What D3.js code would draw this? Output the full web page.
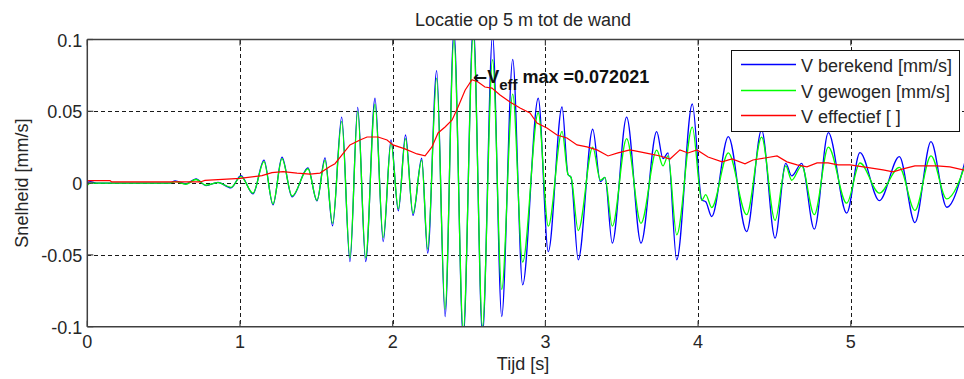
<!DOCTYPE html>
<html>
<head>
<meta charset="utf-8">
<script src="https://cdn.jsdelivr.net/npm/d3@7"></script>
<style>
  html, body { margin: 0; padding: 0; background: #fff; }
  svg { display: block; }
  text { font-family: "Liberation Sans", Arial, sans-serif; fill: #262626; }
</style>
</head>
<body>
<svg id="chart" width="964" height="379"></svg>
<script>
// Time samples (s) at the turning points of the measured signal
const tijd = [
  0.000, 0.020, 0.060, 0.540, 0.575, 0.646, 0.712, 0.777, 0.856, 0.941,
  1.006, 1.085, 1.157, 1.216, 1.275, 1.341, 1.445, 1.504, 1.557, 1.606,
  1.666, 1.720, 1.771, 1.823, 1.884, 1.938, 1.989, 2.037, 2.084, 2.133,
  2.190, 2.229, 2.288, 2.343, 2.401, 2.462, 2.528, 2.588, 2.654, 2.714,
  2.786, 2.851, 2.953, 3.019, 3.109, 3.148, 3.168, 3.215, 3.310, 3.360,
  3.390, 3.438, 3.532, 3.626, 3.729, 3.770, 3.803, 3.860, 3.962, 4.024,
  4.050, 4.089, 4.198, 4.318, 4.416, 4.504, 4.574, 4.613, 4.678, 4.761,
  4.853, 4.973, 5.060, 5.187, 5.318, 5.420, 5.525, 5.628, 5.760
];

// V berekend [mm/s]
const vBerekend = [
  0.0005, 0.001, 0, 0, 0.0015, -0.0006, 0.003, -0.0017, 0.0005, -0.0033,
  0.0052, -0.0075, 0.016, -0.0152, 0.018, -0.0096, 0.0106, -0.0124, 0.0175, -0.0298,
  0.0459, -0.0546, 0.0528, -0.0546, 0.0591, -0.0407, 0.0301, -0.0193, 0.0335, -0.0225,
  0.0173, -0.0488, 0.0783, -0.0929, 0.106, -0.108, 0.110, -0.106, 0.103, -0.0929,
  0.0862, -0.0708, 0.0591, -0.0477, 0.053, 0.006, 0.004, -0.0534, 0.0375, 0.001,
  0.004, -0.0418, 0.0459, -0.0418, 0.0358, 0.017, 0.021, -0.0534, 0.0551, -0.0117,
  -0.013, -0.0233, 0.0324, -0.0338, 0.037, -0.0383, 0.0138, 0.005, 0.0138, -0.0321,
  0.0351, -0.0209, 0.0212, -0.0122, 0.0184, -0.0275, 0.0289, -0.0168, 0.020
];

// V gewogen [mm/s]
const vGewogen = [
  -0.0015, 0, 0, 0, 0.001, -0.0008, 0.0025, -0.0015, 0.0003, -0.003,
  0.0045, -0.007, 0.015, -0.0145, 0.017, -0.009, 0.010, -0.012, 0.016, -0.028,
  0.043, -0.052, 0.050, -0.052, 0.055, -0.038, 0.028, -0.018, 0.031, -0.021,
  0.016, -0.046, 0.073, -0.088, 0.100, -0.103, 0.104, -0.100, 0.086, -0.074,
  0.062, -0.055, 0.049, -0.030, 0.036, 0.006, 0.004, -0.033, 0.025, 0.002,
  0.004, -0.030, 0.031, -0.028, 0.023, 0.012, 0.019, -0.036, 0.039, -0.012,
  -0.008, -0.017, 0.021, -0.022, 0.032, -0.026, 0.012, 0.002, 0.012, -0.022,
  0.025, -0.014, 0.014, -0.007, 0.011, -0.019, 0.019, -0.011, 0.016
];

// V effectief [ ] (running effective value)
const tijdEff = [
  0.005, 0.149, 0.160, 0.740, 0.770, 1.000, 1.144, 1.209, 1.282, 1.373,
  1.458, 1.524, 1.589, 1.622, 1.668, 1.720, 1.786, 1.832, 1.904, 1.963,
  2.002, 2.080, 2.159, 2.212, 2.257, 2.297, 2.343, 2.389, 2.428, 2.474,
  2.519, 2.559, 2.604, 2.650, 2.703, 2.768, 2.834, 2.899, 2.945, 3.010,
  3.076, 3.141, 3.207, 3.272, 3.338, 3.410, 3.475, 3.554, 3.620, 3.685,
  3.751, 3.816, 3.881, 3.934, 3.993, 4.065, 4.157, 4.222, 4.307, 4.359,
  4.438, 4.517, 4.582, 4.648, 4.713, 4.779, 4.851, 4.916, 4.995, 5.126,
  5.211, 5.277, 5.342, 5.420, 5.564, 5.649, 5.735, 5.760
];
const vEffectief = [
  0.0017, 0.0017, 0.0008, 0.0008, 0.0019, 0.0033, 0.0052, 0.0073, 0.0080, 0.0069,
  0.0062, 0.0070, 0.0115, 0.0135, 0.0196, 0.0266, 0.0300, 0.0321, 0.0321, 0.0300,
  0.0266, 0.0238, 0.0203, 0.0190, 0.0252, 0.0349, 0.0391, 0.0440, 0.0530, 0.0647,
  0.072021, 0.0704, 0.0669, 0.0662, 0.0614, 0.0565, 0.0523, 0.0488, 0.0418, 0.0384,
  0.0335, 0.0314, 0.0266, 0.0252, 0.0231, 0.0189, 0.0210, 0.0231, 0.0217, 0.0203,
  0.0189, 0.0168, 0.0231, 0.0210, 0.0231, 0.0182, 0.0148, 0.0168, 0.0134, 0.0161,
  0.0175, 0.0189, 0.0148, 0.0127, 0.0113, 0.0141, 0.0141, 0.0127, 0.0127, 0.0106,
  0.0092, 0.0078, 0.0099, 0.0120, 0.0120, 0.0113, 0.0092, 0.0090
];

const xTicks = [0, 1, 2, 3, 4, 5];
const xTickLabels = ["0", "1", "2", "3", "4", "5"];
const yTicks = [-0.1, -0.05, 0, 0.05, 0.1];
const yTickLabels = ["-0.1", "-0.05", "0", "0.05", "0.1"];

const seriesNames = ["V berekend [mm/s]", "V gewogen [mm/s]", "V effectief [ ]"];
const seriesColors = ["#0000ff", "#00ff00", "#ff0000"];

const titleText = "Locatie op 5 m tot de wand";
const xLabel = "Tijd [s]";
const yLabel = "Snelheid [mm/s]";

// ---- layout ----
const W = 964, H = 379;
const plotLeft = 87.3, plotTop = 39.5, plotBottom = 326.7, plotRight = 964;
const pxPerSecond = 152.7;

const svg = d3.select("#chart");
svg.append("rect").attr("width", W).attr("height", H).attr("fill", "#fff");

const x = d3.scaleLinear().domain([0, 6]).range([plotLeft, plotLeft + 6 * pxPerSecond]);
const y = d3.scaleLinear().domain([-0.1, 0.1]).range([plotBottom, plotTop]);

svg.append("defs").append("clipPath").attr("id", "plotclip")
  .append("rect").attr("x", plotLeft).attr("y", plotTop)
  .attr("width", plotRight - plotLeft).attr("height", plotBottom - plotTop);

// grid
const grid = svg.append("g").attr("stroke", "#1a1a1a").attr("stroke-width", 1)
  .attr("stroke-dasharray", "4,3").attr("shape-rendering", "crispEdges");
xTicks.filter(t => t > 0).forEach(t => {
  grid.append("line").attr("x1", Math.round(x(t)) + 0.5).attr("x2", Math.round(x(t)) + 0.5)
    .attr("y1", plotTop).attr("y2", plotBottom);
});
yTicks.filter(v => Math.abs(v) < 0.1).forEach(v => {
  grid.append("line").attr("x1", plotLeft).attr("x2", plotRight)
    .attr("y1", Math.round(y(v)) + 0.5).attr("y2", Math.round(y(v)) + 0.5);
});

// data lines
const plot = svg.append("g").attr("clip-path", "url(#plotclip)");
const osc = d3.line().x(d => x(d[0])).y(d => y(d[1])).curve(d3.curveMonotoneX);
const eff = d3.line().x(d => x(d[0])).y(d => y(d[1]));

plot.append("path").datum(d3.zip(tijd, vBerekend))
  .attr("d", osc).attr("fill", "none").attr("stroke", seriesColors[0]).attr("stroke-width", 1.3);
plot.append("path").datum(d3.zip(tijd, vGewogen))
  .attr("d", osc).attr("fill", "none").attr("stroke", seriesColors[1]).attr("stroke-width", 1.3);
plot.append("path").datum(d3.zip(tijdEff, vEffectief))
  .attr("d", eff).attr("fill", "none").attr("stroke", seriesColors[2]).attr("stroke-width", 1.2);

// axes frame and tick marks
const frame = svg.append("g").attr("stroke", "#404040").attr("stroke-width", 1.5).attr("fill", "none");
frame.append("line").attr("x1", plotLeft).attr("x2", plotRight).attr("y1", plotTop).attr("y2", plotTop);
frame.append("line").attr("x1", plotLeft).attr("x2", plotRight).attr("y1", plotBottom).attr("y2", plotBottom);
frame.append("line").attr("x1", plotLeft).attr("x2", plotLeft).attr("y1", plotTop).attr("y2", plotBottom);
xTicks.forEach(t => {
  frame.append("line").attr("x1", x(t)).attr("x2", x(t)).attr("y1", plotBottom).attr("y2", plotBottom - 6).attr("stroke-width", 1.2);
  frame.append("line").attr("x1", x(t)).attr("x2", x(t)).attr("y1", plotTop).attr("y2", plotTop + 6).attr("stroke-width", 1.2);
});
yTicks.forEach(v => {
  frame.append("line").attr("x1", plotLeft).attr("x2", plotLeft + 6).attr("y1", y(v)).attr("y2", y(v)).attr("stroke-width", 1.2);
});

// tick labels
svg.append("g").selectAll("text").data(xTicks).join("text")
  .attr("x", d => x(d)).attr("y", plotBottom + 21).attr("text-anchor", "middle")
  .attr("font-size", 18).text((d, i) => xTickLabels[i]);
svg.append("g").selectAll("text").data(yTicks).join("text")
  .attr("x", plotLeft - 5).attr("y", d => y(d) + 7).attr("text-anchor", "end")
  .attr("font-size", 18).text((d, i) => yTickLabels[i]);

// title and axis labels
svg.append("text").attr("x", 523).attr("y", 26).attr("text-anchor", "middle")
  .attr("font-size", 18).text(titleText);
svg.append("text").attr("x", 523).attr("y", 370).attr("text-anchor", "middle")
  .attr("font-size", 18).text(xLabel);
svg.append("text").attr("transform", "translate(28," + y(0) + ") rotate(-90)")
  .attr("text-anchor", "middle").attr("font-size", 18).text(yLabel);

// peak annotation of the effective value
const iMax = d3.maxIndex(vEffectief);
const ann = svg.append("text").attr("x", x(tijdEff[iMax]) + 1).attr("y", y(vEffectief[iMax]) + 3)
  .attr("font-size", 18).attr("font-weight", "bold").style("fill", "#111");
ann.append("tspan").style("font-family", "'DejaVu Sans', sans-serif").attr("font-size", 17).text("\u2190");
ann.append("tspan").text("V");
ann.append("tspan").attr("font-size", 15).attr("dy", 7).text("eff");
ann.append("tspan").attr("dy", -7).text(" max =" + vEffectief[iMax]);

// legend
const lg = svg.append("g");
lg.append("rect").attr("x", 731.5).attr("y", 50.5).attr("width", 228).attr("height", 81)
  .attr("fill", "#fff").attr("stroke", "#111").attr("stroke-width", 1);
const rowsY = [64.5, 90.5, 115.5];
seriesNames.forEach((name, i) => {
  lg.append("line").attr("x1", 741).attr("x2", 796).attr("y1", rowsY[i]).attr("y2", rowsY[i])
    .attr("stroke", seriesColors[i]).attr("stroke-width", 1.3);
  lg.append("text").attr("x", 801).attr("y", rowsY[i] + 7).attr("font-size", 18).text(name);
});
</script>
</body>
</html>
